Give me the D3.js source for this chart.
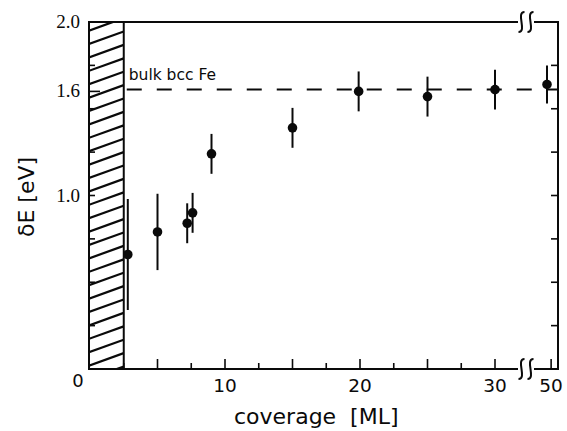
<!DOCTYPE html>
<html>
<head>
<meta charset="utf-8">
<script src="https://cdn.jsdelivr.net/npm/d3@7"></script>
<style>
  body { margin: 0; background: #fff; }
  svg { display: block; }
</style>
</head>
<body>
<svg id="chart" width="567" height="431"></svg>
<script>
// data
var coverage = [2.8, 5.0, 7.2, 7.6, 9.0, 15.0, 19.9, 25.0, 30.0, 49.7];
var deltaE = [0.66, 0.79, 0.84, 0.90, 1.24, 1.39, 1.60, 1.57, 1.61, 1.64];
var deltaErr = [0.32, 0.22, 0.115, 0.115, 0.115, 0.115, 0.115, 0.115, 0.115, 0.11];
var xTickLabels = [10, 20, 30, 50];
var xMinorTicks = [2.5, 5, 7.5, 12.5, 15, 17.5, 22.5, 25, 27.5];
var yTickLabels = [1.0, 1.6, 2.0];
var yMinorTicks = [0.25, 0.5, 0.75, 1.0, 1.25, 1.5, 1.75];
var bulkFe = 1.6;
var filmStart = 2.5; // hatched region, below this no data

var svg = d3.select("#chart");
// note: "top" is taken by window.top, so use plot* names
var plotLeft = 90, plotRight = 558, plotTop = 22, plotBottom = 369;

// broken x axis: 0..32.5 then jump to 49..50.5
var x = d3.scaleLinear()
  .domain([0, 32.5, 48.9, 50.5])
  .range([plotLeft, 528.75, 536, plotRight]);
var y = d3.scaleLinear().domain([0, 2]).range([plotBottom, plotTop]);

var ink = "#0a0a0a";

// hatched region
svg.append("clipPath").attr("id", "hatchClip")
  .append("rect")
  .attr("x", x(0) - 1).attr("y", plotTop)
  .attr("width", x(filmStart) - x(0) + 1).attr("height", plotBottom - plotTop);

var hatchOffsets = d3.range(plotBottom - 4 + 14, plotTop - 14, -13.4);
svg.append("g").attr("clip-path", "url(#hatchClip)")
  .selectAll("line").data(hatchOffsets).enter().append("line")
  .attr("x1", x(0) - 1).attr("y1", function (d) { return d; })
  .attr("x2", x(filmStart)).attr("y2", function (d) { return d - 12.5; })
  .attr("stroke", ink).attr("stroke-width", 2.2);

svg.append("line")
  .attr("x1", x(filmStart)).attr("x2", x(filmStart))
  .attr("y1", plotTop).attr("y2", plotBottom)
  .attr("stroke", ink).attr("stroke-width", 2);

// frame
svg.append("rect")
  .attr("x", plotLeft - 1).attr("y", plotTop)
  .attr("width", plotRight - plotLeft + 1).attr("height", plotBottom - plotTop)
  .attr("fill", "none").attr("stroke", ink).attr("stroke-width", 2);

// x ticks (inward)
svg.append("g").selectAll("line").data(xTickLabels.concat(xMinorTicks)).enter().append("line")
  .attr("x1", function (d) { return x(d); }).attr("x2", function (d) { return x(d); })
  .attr("y1", plotBottom)
  .attr("y2", function (d) { return d % 5 === 0 ? plotBottom - 10 : plotBottom - 6; })
  .attr("stroke", ink).attr("stroke-width", 1.6);

// y ticks, right side and left side (inward)
svg.append("g").selectAll("line").data(yMinorTicks).enter().append("line")
  .attr("x1", plotRight).attr("x2", plotRight - 7)
  .attr("y1", function (d) { return y(d); }).attr("y2", function (d) { return y(d); })
  .attr("stroke", ink).attr("stroke-width", 1.6);
svg.append("g").selectAll("line").data(yMinorTicks.concat([bulkFe])).enter().append("line")
  .attr("x1", plotLeft).attr("x2", function (d) { return d === bulkFe ? plotLeft + 10 : plotLeft + 5; })
  .attr("y1", function (d) { return y(d); }).attr("y2", function (d) { return y(d); })
  .attr("stroke", ink).attr("stroke-width", 1.6);

// axis break symbols (two s-curves cutting the frame)
function axisBreak(cy) {
  var cx = 526;
  svg.append("rect").attr("x", cx - 8).attr("y", cy - 3).attr("width", 16).attr("height", 6)
    .attr("fill", "#fff");
  [cx - 4.5, cx + 4.5].forEach(function (bx) {
    svg.append("path")
      .attr("d", "M" + (bx + 3) + "," + (cy - 10) +
        " C" + (bx - 6) + "," + (cy - 10) + " " + (bx + 6) + "," + (cy + 10) + " " + (bx - 3) + "," + (cy + 10))
      .attr("fill", "none").attr("stroke", ink).attr("stroke-width", 2);
  });
}
axisBreak(plotTop);
axisBreak(plotBottom);

// bulk bcc Fe reference line
svg.append("line")
  .attr("x1", x(filmStart)).attr("x2", plotRight)
  .attr("y1", y(bulkFe) - 2).attr("y2", y(bulkFe) - 2)
  .attr("stroke", ink).attr("stroke-width", 2)
  .attr("stroke-dasharray", "15,15").attr("stroke-dashoffset", -3);
svg.append("text")
  .attr("x", x(filmStart) + 5).attr("y", y(bulkFe) - 11)
  .attr("font-family", "DejaVu Sans").attr("font-size", 15.5).attr("fill", ink)
  .text("bulk bcc Fe");

// error bars and points
var pts = coverage.map(function (c, i) { return { x: c, y: deltaE[i], e: deltaErr[i] }; });
svg.append("g").selectAll("line").data(pts).enter().append("line")
  .attr("x1", function (d) { return x(d.x); }).attr("x2", function (d) { return x(d.x); })
  .attr("y1", function (d) { return y(d.y + d.e); })
  .attr("y2", function (d) { return y(d.y - d.e); })
  .attr("stroke", ink).attr("stroke-width", 2);
svg.append("g").selectAll("circle").data(pts).enter().append("circle")
  .attr("cx", function (d) { return x(d.x); })
  .attr("cy", function (d) { return y(d.y); })
  .attr("r", 4.8).attr("fill", ink);

// tick labels
svg.append("g").selectAll("text").data(yTickLabels).enter().append("text")
  .attr("x", 80).attr("y", function (d) { return y(d) + 6; })
  .attr("text-anchor", "end")
  .attr("font-family", "Liberation Serif").attr("font-size", 19).attr("fill", ink)
  .text(function (d) { return d.toFixed(1); });
svg.append("text")
  .attr("x", 78).attr("y", 387).attr("text-anchor", "middle")
  .attr("font-family", "DejaVu Sans").attr("font-size", 18).attr("fill", ink)
  .text("0");
svg.append("g").selectAll("text").data(xTickLabels).enter().append("text")
  .attr("x", function (d) { return x(d); }).attr("y", 392)
  .attr("text-anchor", "middle")
  .attr("font-family", "DejaVu Sans").attr("font-size", 18.5).attr("fill", ink)
  .text(function (d) { return d; });

// axis titles
svg.append("text")
  .attr("x", 234).attr("y", 424)
  .attr("font-family", "DejaVu Sans").attr("font-size", 22).attr("fill", ink)
  .attr("xml:space", "preserve")
  .text("coverage  [ML]");
svg.append("text")
  .attr("transform", "translate(34,197) rotate(-90)")
  .attr("text-anchor", "middle")
  .attr("font-family", "DejaVu Sans").attr("font-size", 22).attr("fill", ink)
  .text("δE [eV]");
</script>
</body>
</html>
